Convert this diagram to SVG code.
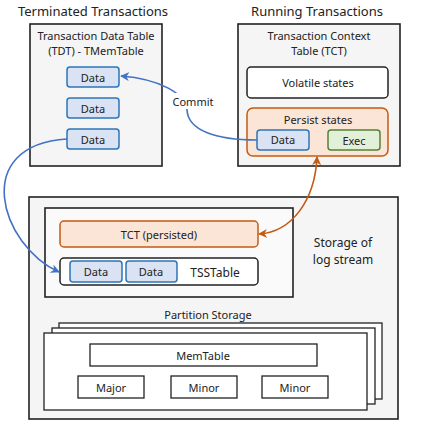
<svg xmlns="http://www.w3.org/2000/svg" width="428" height="434" viewBox="0 0 428 434">
<defs>
<style>
text{font-family:"Noto Sans","Open Sans","DejaVu Sans",sans-serif;fill:#222;text-anchor:middle;dominant-baseline:central}
.t13{font-size:13px}
.t12{font-size:12px}
.t11{font-size:11px}
.panel{fill:#f5f5f5;stroke:#222;stroke-width:1.6}
.data{fill:#dae3f3;stroke:#2e75b6;stroke-width:1.5}
.orange{fill:#fbe5d6;stroke:#c55a11;stroke-width:1.5}
.green{fill:#e2f0d9;stroke:#548235;stroke-width:1.5}
.white{fill:#fff;stroke:#222;stroke-width:1.5}
.plain{fill:#fff;stroke:#222;stroke-width:1.3}
.blue{fill:none;stroke:#4472c4;stroke-width:1.6}
.brown{fill:none;stroke:#c55a11;stroke-width:1.6}
</style>
<marker id="ab" viewBox="0 0 10 10" refX="9" refY="5" markerWidth="9" markerHeight="9" markerUnits="userSpaceOnUse" orient="auto-start-reverse"><path d="M0,0 L10,5 L0,10 L3,5 Z" fill="#4472c4"/></marker>
<marker id="ao" viewBox="0 0 10 10" refX="9" refY="5" markerWidth="9" markerHeight="9" markerUnits="userSpaceOnUse" orient="auto-start-reverse"><path d="M0,0 L10,5 L0,10 L3,5 Z" fill="#c55a11"/></marker>
</defs>
<rect width="428" height="434" fill="#fff"/>

<g id="terminated">
<text class="t13" x="93" y="11">Terminated Transactions</text>
<rect class="panel" x="30" y="24" width="132" height="142"/>
<text class="t11" x="96" y="35">Transaction Data Table</text>
<text class="t11" x="96" y="50">(TDT) - TMemTable</text>
</g>
<g id="tdt-data1"><rect class="data" x="67" y="67" width="52" height="20" rx="3"/><text class="t11" x="93" y="77">Data</text></g>
<g id="tdt-data2"><rect class="data" x="67" y="98" width="52" height="20" rx="3"/><text class="t11" x="93" y="108">Data</text></g>
<g id="tdt-data3"><rect class="data" x="67" y="129" width="52" height="20" rx="3"/><text class="t11" x="93" y="139">Data</text></g>

<g id="running">
<text class="t13" x="317" y="11">Running Transactions</text>
<rect class="panel" x="238" y="24" width="162" height="142"/>
<text class="t11" x="319" y="35">Transaction Context</text>
<text class="t11" x="319" y="50">Table (TCT)</text>
</g>
<g id="volatile"><rect class="white" x="247" y="67" width="141" height="31" rx="4"/><text class="t11" x="318" y="82">Volatile states</text></g>
<g id="persist"><rect class="orange" x="247" y="108" width="141" height="48" rx="6"/><text class="t11" x="318" y="119">Persist states</text></g>
<g id="tct-data"><rect class="data" x="257" y="130" width="52" height="20" rx="3"/><text class="t11" x="283" y="139">Data</text></g>
<g id="exec"><rect class="green" x="328" y="130" width="52" height="20" rx="3"/><text class="t11" x="354" y="140">Exec</text></g>

<g id="storage">
<rect class="panel" x="29" y="197" width="369" height="222"/>
<rect fill="#fafafa" stroke="#222" stroke-width="1.6" x="45" y="208" width="248" height="89"/>
<text class="t12" x="343" y="242">Storage of</text>
<text class="t12" x="343" y="259">log stream</text>
</g>
<g id="tct-persisted"><rect class="orange" x="60" y="221" width="198" height="26" rx="4"/><text class="t11" x="159" y="234">TCT (persisted)</text></g>
<g id="tsstable">
<rect class="white" x="60" y="258" width="198" height="27" rx="4"/>
<text class="t12" x="215" y="272">TSSTable</text>
</g>
<g id="tss-data1"><rect class="data" x="70" y="261" width="52" height="21" rx="3"/><text class="t11" x="96" y="271">Data</text></g>
<g id="tss-data2"><rect class="data" x="126" y="261" width="51" height="21" rx="3"/><text class="t11" x="151" y="271">Data</text></g>

<g id="partition">
<text class="t11" x="208" y="314">Partition Storage</text>
<rect class="plain" x="59" y="323" width="323" height="76"/>
<rect class="plain" x="52" y="328" width="323" height="76"/>
<rect class="plain" x="44" y="333" width="323" height="77"/>
</g>
<g id="memtable"><rect class="plain" x="90" y="344" width="227" height="22"/><text class="t11" x="203" y="355">MemTable</text></g>
<g id="major"><rect class="plain" x="78" y="376" width="66" height="22"/><text class="t11" x="111" y="387">Major</text></g>
<g id="minor1"><rect class="plain" x="171" y="376" width="66" height="22"/><text class="t11" x="204" y="387">Minor</text></g>
<g id="minor2"><rect class="plain" x="262" y="376" width="66" height="22"/><text class="t11" x="295" y="387">Minor</text></g>

<g id="connectors">
<path class="blue" d="M257,140 C215,140 188,130 187,110 C186,94 160,79 121,76" marker-end="url(#ab)"/>
<rect x="172" y="93" width="42" height="16" fill="#fff"/>
<text class="t11" x="193" y="101">Commit</text>
<path class="blue" d="M67,139 C-30,145 0,245 59,272" marker-end="url(#ab)"/>
<path class="brown" d="M317,157 C315,200 292,232 259,234" marker-start="url(#ao)" marker-end="url(#ao)"/>
</g>
</svg>
